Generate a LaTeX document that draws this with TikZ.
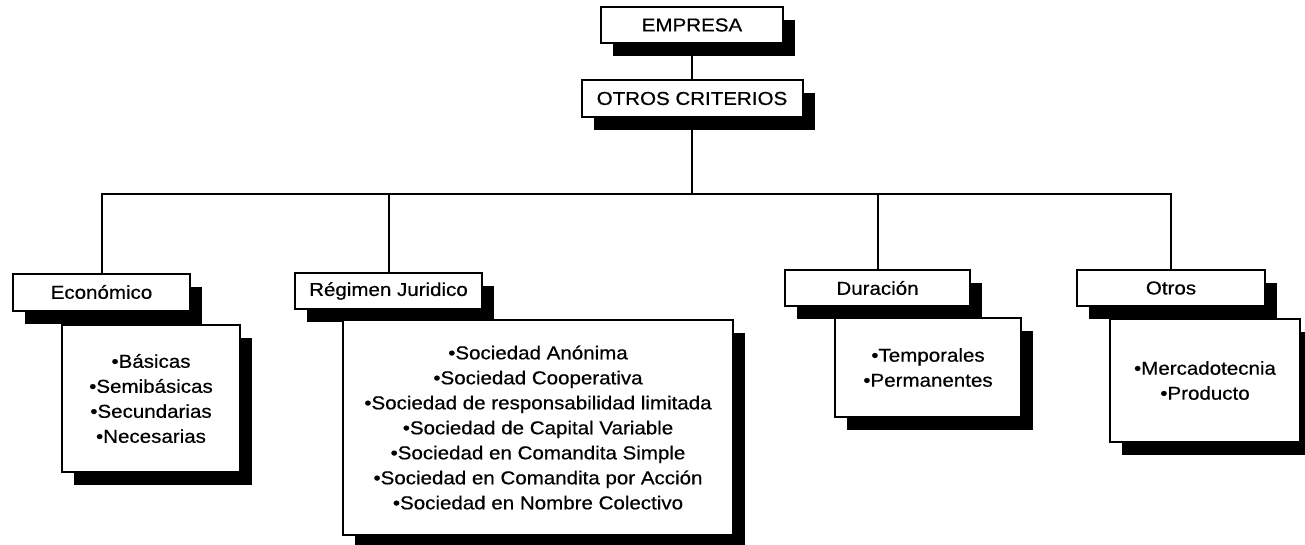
\documentclass[tikz,border=0pt]{standalone}
\usepackage{fontspec}
\setmainfont{Liberation Sans}[FakeStretch=1.1, FakeBold=0.5]
\usetikzlibrary{shadows}

\tikzstyle{head} = [rectangle, draw=black, line width=1.5pt, fill=white, text=black, align=center, inner sep=0pt, minimum height=27pt, drop shadow={shadow xshift=9pt, shadow yshift=-9.75pt, fill=black, opacity=1}]
\tikzstyle{list} = [head]
\tikzstyle{tline}  = [draw, line width=1.5pt]

\begin{document}
\begin{tikzpicture}[x=0.75pt, y=-0.75pt, font=\fontsize{14}{18.75}\selectfont]
\useasboundingbox (0,0) rectangle (1305,545);

% top =============================

\node[head, minimum width=136.5pt] (emp) at (692,25) {EMPRESA};
\node[head, minimum width=165.75pt, minimum height=27.75pt] (crit) at (692,98.5) {OTROS CRITERIOS};

\coordinate (bus) at (692,194);

% criteria
\node[head, minimum width=132.75pt, minimum height=27.75pt] (eco) at (101.5,292) {Económico};
\node[head, minimum width=140.25pt] (reg) at (388.5,291) {Régimen Juridico};
\node[head, minimum width=138.75pt] (dur) at (877.5,288) {Duración};
\node[head, minimum width=141pt] (otr) at (1171,288) {Otros};

% lists
\node[list, minimum width=133.5pt, minimum height=110.25pt] (ecoList) at (151,398.5)
  {•Básicas\\•Semibásicas\\•Secundarias\\•Necesarias};
\node[list, minimum width=292.5pt, minimum height=161.25pt] (regList) at (538,427.5)
  {•Sociedad Anónima\\•Sociedad Cooperativa\\•Sociedad de responsabilidad limitada\\•Sociedad de Capital Variable\\•Sociedad en Comandita Simple\\•Sociedad en Comandita por Acción\\•Sociedad en Nombre Colectivo};
\node[list, minimum width=139.5pt, minimum height=74.25pt] (durList) at (928,367.5)
  {•Temporales\\•Permanentes};
\node[list, minimum width=142.5pt, minimum height=92.25pt] (otrList) at (1205,380.5)
  {•Mercadotecnia\\•Producto};

% edges
\path[tline] (emp) -- (crit);
\path[tline] (crit) -- (bus);
\path[tline] (eco) |- (bus) -| (otr);
\path[tline] (reg) -- (reg |- bus);
\path[tline] (dur) -- (dur |- bus);

\end{tikzpicture}
\end{document}
